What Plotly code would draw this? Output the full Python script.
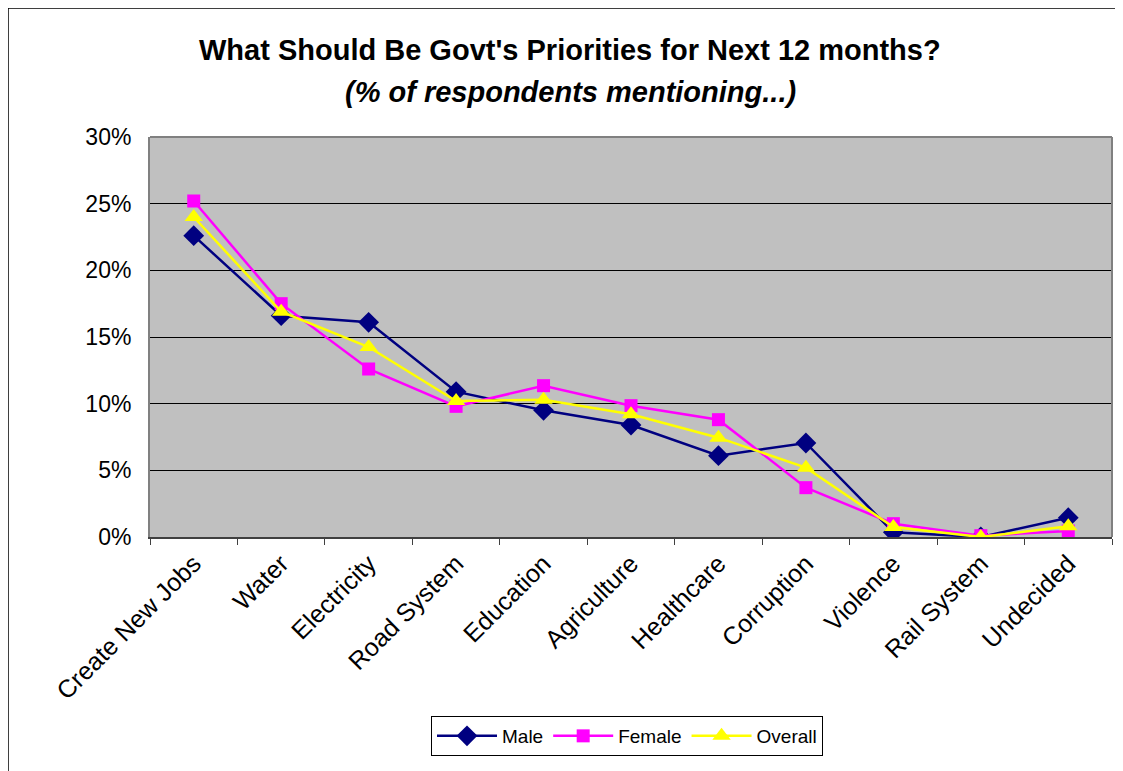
import plotly.graph_objects as go

categories = ["Create New Jobs", "Water", "Electricity", "Road System", "Education",
              "Agriculture", "Healthcare", "Corruption", "Violence", "Rail System", "Undecided"]
male = [22.6, 16.6, 16.1, 10.9, 9.5, 8.4, 6.1, 7.05, 0.35, 0.0, 1.45]
female = [25.2, 17.5, 12.6, 9.8, 11.35, 9.85, 8.8, 3.7, 1.0, 0.1, 0.45]
overall = [24.0, 16.9, 14.25, 10.2, 10.3, 9.2, 7.45, 5.2, 0.75, 0.0, 0.8]
y_ticks = [0, 5, 10, 15, 20, 25, 30]
y_tick_labels = ["0%", "5%", "10%", "15%", "20%", "25%", "30%"]

OFF = 8  # page body margin
W, H = 1123 - OFF, 771 - OFF
L, R, T, B = 150 - OFF, 1112 - OFF, 137 - OFF, 537 - OFF

def px_to_paper_x(px):
    return (px - OFF - L) / (R - L)

def px_to_paper_y(py):
    return (B - (py - OFF)) / (B - T)

fig = go.Figure()
fig.add_trace(go.Scatter(x=categories, y=male, name="Male", mode="lines+markers",
                         line=dict(color="#000080", width=2.5),
                         marker=dict(symbol="diamond", size=16, color="#000080")))
fig.add_trace(go.Scatter(x=categories, y=female, name="Female", mode="lines+markers",
                         line=dict(color="#FF00FF", width=2.5),
                         marker=dict(symbol="square", size=13, color="#FF00FF")))
fig.add_trace(go.Scatter(x=categories, y=overall, name="Overall", mode="lines+markers",
                         line=dict(color="#FFFF00", width=2.5),
                         marker=dict(symbol="triangle-up", size=16, color="#FFFF00")))

fig.update_layout(
    width=W, height=H,
    margin=dict(l=L, r=W - R, t=T, b=H - B, pad=0),
    paper_bgcolor="white",
    plot_bgcolor="#C0C0C0",
    font=dict(family="Arial, Liberation Sans, sans-serif", color="black"),
    showlegend=True,
    legend=dict(orientation="h", x=px_to_paper_x(627), y=px_to_paper_y(736),
                xanchor="center", yanchor="middle",
                bordercolor="black", borderwidth=1, bgcolor="white",
                font=dict(size=19), itemwidth=60, tracegroupgap=0),
    xaxis=dict(type="category", range=[-0.5, 10.5], showgrid=False,
               ticks="outside", tickson="boundaries", ticklen=6, tickcolor="#404040",
               showline=True, linecolor="#404040", linewidth=2, mirror=False,
               tickangle=-45, tickfont=dict(size=25)),
    yaxis=dict(range=[0, 30], tickvals=y_ticks, ticktext=y_tick_labels,
               showgrid=True, gridcolor="black", gridwidth=1,
               ticks="", ticklabelstandoff=12,
               showline=True, linecolor="#808080", linewidth=2,
               tickfont=dict(size=23), zeroline=False),
    annotations=[
        dict(text="<b>What Should Be Govt's Priorities for Next 12 months?</b>",
             x=px_to_paper_x(570), y=px_to_paper_y(50), xref="paper", yref="paper",
             xanchor="center", yanchor="middle", showarrow=False, font=dict(size=29)),
        dict(text="<b><i>(% of respondents mentioning...)</i></b>",
             x=px_to_paper_x(570), y=px_to_paper_y(92), xref="paper", yref="paper",
             xanchor="center", yanchor="middle", showarrow=False, font=dict(size=29)),
    ],
    shapes=[
        dict(type="rect", xref="paper", yref="paper",
             x0=px_to_paper_x(8), x1=px_to_paper_x(1200),
             y0=px_to_paper_y(800), y1=px_to_paper_y(8),
             line=dict(color="black", width=1.5), fillcolor="rgba(0,0,0,0)", layer="below"),
        dict(type="line", xref="paper", yref="paper", x0=0, x1=1, y0=1, y1=1,
             line=dict(color="#808080", width=2)),
        dict(type="line", xref="paper", yref="paper", x0=1, x1=1, y0=0, y1=1,
             line=dict(color="#808080", width=2)),
    ],
)

fig.write_html("out.html")
